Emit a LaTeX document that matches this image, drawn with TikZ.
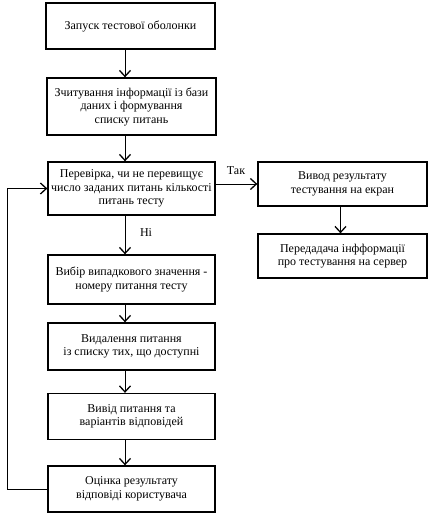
\documentclass[tikz,border=0pt]{standalone}
\usepackage{fontspec}
\setmainfont{Liberation Serif}
\usetikzlibrary{arrows.meta}
\begin{document}
\begin{tikzpicture}[x=1pt,y=-1pt,
  box/.style={draw, line width=1.3pt, align=center, font=\fontsize{12}{13.5}\selectfont, inner sep=0pt},
  arr/.style={line width=1pt, -{Straight Barb[length=6pt,width=11pt,line width=1.3pt]}},
  lbl/.style={font=\fontsize{12}{13.5}\selectfont, inner sep=0pt}]
\useasboundingbox (0,0) rectangle (430,517);
\node[box, minimum width=169pt, minimum height=46pt] (b1) at (130.5,26) {Запуск тестової оболонки};
\node[box, minimum width=169pt, minimum height=57pt] (b2) at (131.5,106.5) {Зчитування інформації із бази\\даних і формування\\списку питань};
\node[box, minimum width=167pt, minimum height=53pt] (b3) at (131.5,188.5) {Перевірка, чи не перевищує\\число заданих питань кількості\\питань тесту};
\node[box, minimum width=169pt, minimum height=44pt] (r1) at (342.5,184) {Вивод результату\\тестування на екран};
\node[box, minimum width=169pt, minimum height=44pt] (r2) at (342.5,256) {Передадача інфформації\\про тестування на сервер};
\node[box, minimum width=167pt, minimum height=49pt] (b4) at (131.5,279.5) {Вибір випадкового значення -\\номеру питання тесту};
\node[box, minimum width=167pt, minimum height=47pt] (b5) at (131.5,346.5) {Видалення питання\\із списку тих, що доступні};
\node[box, minimum width=167pt, minimum height=46pt] (b6) at (131.5,416.5) {Вивід питання та\\варіантів відповідей};
\node[box, minimum width=167pt, minimum height=46pt] (b7) at (131.5,489) {Оцінка результату\\відповіді користувача};
\draw[arr] ([xshift=-5.5pt]b1.south) -- ([xshift=-5.5pt]b1.south |- b2.north);
\draw[arr] ([xshift=-6.5pt]b2.south) -- ([xshift=-6.5pt]b2.south |- b3.north);
\draw[arr] ([xshift=-6.5pt]b3.south) -- ([xshift=-6.5pt]b3.south |- b4.north);
\draw[arr] ([xshift=-6.5pt]b4.south) -- ([xshift=-6.5pt]b4.south |- b5.north);
\draw[arr] ([xshift=-6.5pt]b5.south) -- ([xshift=-6.5pt]b5.south |- b6.north);
\draw[arr] ([xshift=-6.5pt]b6.south) -- ([xshift=-6.5pt]b6.south |- b7.north);
\draw[arr] (b3.east |- r1.west) -- (r1.west);
\draw[arr] ([xshift=-2pt]r1.south) -- ([xshift=-2pt]r1.south |- r2.north);
\draw[arr] (b7.west) -- ++(-40,0) coordinate (lp) |- (b3.west);
\node[lbl] (tak) at (236,171) {Так};
\node[lbl] (ni) at (146,233) {Ні};
\end{tikzpicture}
\end{document}
